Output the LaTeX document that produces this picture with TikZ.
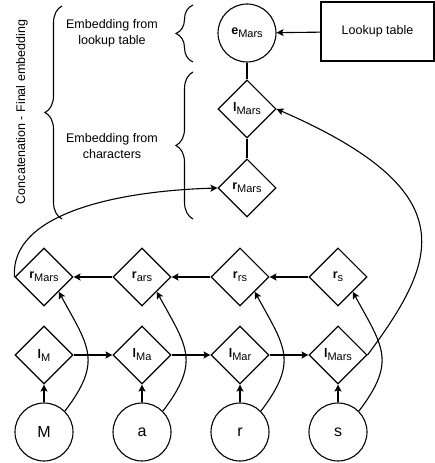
\documentclass[tikz,border=0pt]{standalone}
\usepackage{fontspec}
\setmainfont{Liberation Sans}
\usetikzlibrary{shapes.geometric,arrows.meta,decorations.pathreplacing}

\newcommand{\emb}[2]{\textbf{#1}\raisebox{-3pt}{\fontsize{11}{13}\selectfont #2}}

\begin{document}
\begin{tikzpicture}[x=1pt, y=1pt, line width=1.1pt,
    every node/.append style={font=\fontsize{12.5}{16}\selectfont},
    state/.style={draw, diamond, minimum width=58pt, minimum height=58pt, inner sep=0pt},
    char/.style={draw, circle, minimum size=58pt, inner sep=0pt, font=\fontsize{16}{18}\selectfont},
    arr/.style={-{Stealth[length=7pt,width=7pt,inset=1.5pt]}},
    brc/.style={decorate, decoration={brace, amplitude=17pt}}]
  \useasboundingbox (0,0) rectangle (435,463);

  % word level
  \node[char, font=\fontsize{12.5}{16}\selectfont] (eM) at (247,430) {\emb{e}{Mars}};
  \node[draw, minimum width=113pt, minimum height=59pt] (lookup) at (377.5,431.5) {Lookup table};
  \node[state] (lM) at (247,354) {\emb{l}{Mars}};
  \node[state] (rM) at (247,275) {\emb{r}{Mars}};
  \draw[arr] (lookup) -- (eM);
  \draw (eM) -- (lM);
  \draw (lM) -- (rM);

  % character level
  \foreach \ch/\lsub/\rsub [count=\i] in {M/M/Mars, a/Ma/ars, r/Mar/rs, s/Mars/s} {
    \pgfmathsetmacro\xx{44+98*(\i-1)}
    \node[char] (c\i) at (\xx,31) {\ch};
    \node[state] (l\i) at (\xx,108) {\emb{l}{\lsub}};
    \node[state] (r\i) at (\xx,186) {\emb{r}{\rsub}};
    \draw[arr] (c\i) -- (l\i);
    \draw[arr] (c\i.45) .. controls +(38,50) and +(30,-55) .. (r\i.south east);
  }
  \foreach \i/\j in {1/2,2/3,3/4} {
    \draw[arr] (l\i) -- (l\j);
    \draw[arr] (r\j) -- (r\i);
  }
  \draw[arr] (l4.east) .. controls (438,203) and (467,271) .. (lM.east);
  \draw[arr] (r1.west) .. controls (10,250) and (118,272) .. (rM.west);

  % braces
  \draw[brc] (193,401) -- (193,458);
  \draw[brc] (193,244) -- (193,391);
  \draw[brc] (62,244) -- (62,457);
  \node[align=center] (lkText) at (112,430) {Embedding from\\lookup table};
  \node[align=center] (chText) at (112,317) {Embedding from\\characters};
  \node[rotate=90] (concat) at (22,351) {Concatenation - Final embedding};
\end{tikzpicture}
\end{document}
